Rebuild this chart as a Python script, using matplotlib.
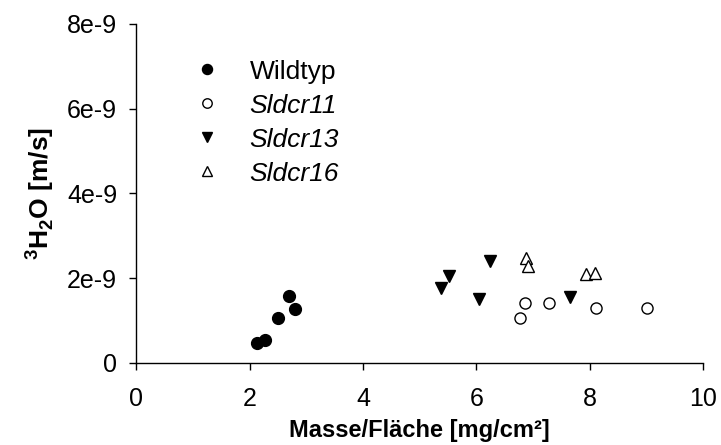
import matplotlib.pyplot as plt
import numpy as np

plt.rcParams['font.family'] = ['Liberation Sans', 'DejaVu Sans']
plt.rcParams['mathtext.fontset'] = 'custom'
plt.rcParams['mathtext.rm'] = 'Liberation Sans:bold'
plt.rcParams['mathtext.bf'] = 'Liberation Sans:bold'

# Wildtyp
wt_x = [2.12, 2.27, 2.49, 2.69, 2.80]
wt_y = [0.47e-9, 0.54e-9, 1.07e-9, 1.57e-9, 1.27e-9]
# Sldcr11
s11_x = [6.77, 6.86, 7.28, 8.12, 9.02]
s11_y = [1.06e-9, 1.42e-9, 1.42e-9, 1.30e-9, 1.30e-9]
# Sldcr13
s13_x = [5.38, 5.51, 6.04, 6.24, 7.66]
s13_y = [1.76e-9, 2.05e-9, 1.50e-9, 2.40e-9, 1.56e-9]
# Sldcr16
s16_x = [6.88, 6.91, 7.93, 8.09]
s16_y = [2.47e-9, 2.30e-9, 2.09e-9, 2.13e-9]

xticks = [0, 2, 4, 6, 8, 10]
yticks = [0, 2e-9, 4e-9, 6e-9, 8e-9]
ytick_labels = ['0', '2e-9', '4e-9', '6e-9', '8e-9']

fig = plt.figure(figsize=(7.21, 4.45), dpi=100)
ax = fig.add_axes([0.1893, 0.1843, 0.7857, 0.7618])

ax.plot(wt_x, wt_y, 'o', color='black', ms=8.5, label='Wildtyp', clip_on=False)
ax.plot(s11_x, s11_y, 'o', mfc='white', mec='black', mew=1.0, ms=8, label='Sldcr11', clip_on=False)
ax.plot(s13_x, s13_y, 'v', color='black', ms=8.5, label='Sldcr13', clip_on=False)
ax.plot(s16_x, s16_y, '^', mfc='white', mec='black', mew=1.0, ms=8, label='Sldcr16', clip_on=False)

ax.set_xlim(0, 10)
ax.set_ylim(0, 8e-9)
ax.set_xticks(xticks)
ax.set_xticklabels([str(t) for t in xticks])
ax.set_yticks(yticks)
ax.set_yticklabels(ytick_labels)
ax.tick_params(direction='out', length=5, width=1, labelsize=18)
ax.tick_params(axis='x', pad=12)
ax.tick_params(axis='y', pad=9)

for s in ['top', 'right']:
    ax.spines[s].set_visible(False)
for s in ['left', 'bottom']:
    ax.spines[s].set_linewidth(1)

ax.set_xlabel('Masse/Fläche [mg/cm²]', fontsize=17, fontweight='bold', labelpad=6)
ax.set_ylabel(r'$^{3}$H$_{2}$O [m/s]', fontsize=19, fontweight='bold', labelpad=8)

leg = ax.legend(loc='upper left', bbox_to_anchor=(0.06, 0.965), frameon=False,
                fontsize=19, handletextpad=1.1, labelspacing=0.38,
                markerscale=0.85, handlelength=1.0)
for t in leg.get_texts()[1:]:
    t.set_style('italic')

fig.savefig('out.png', dpi=100)
